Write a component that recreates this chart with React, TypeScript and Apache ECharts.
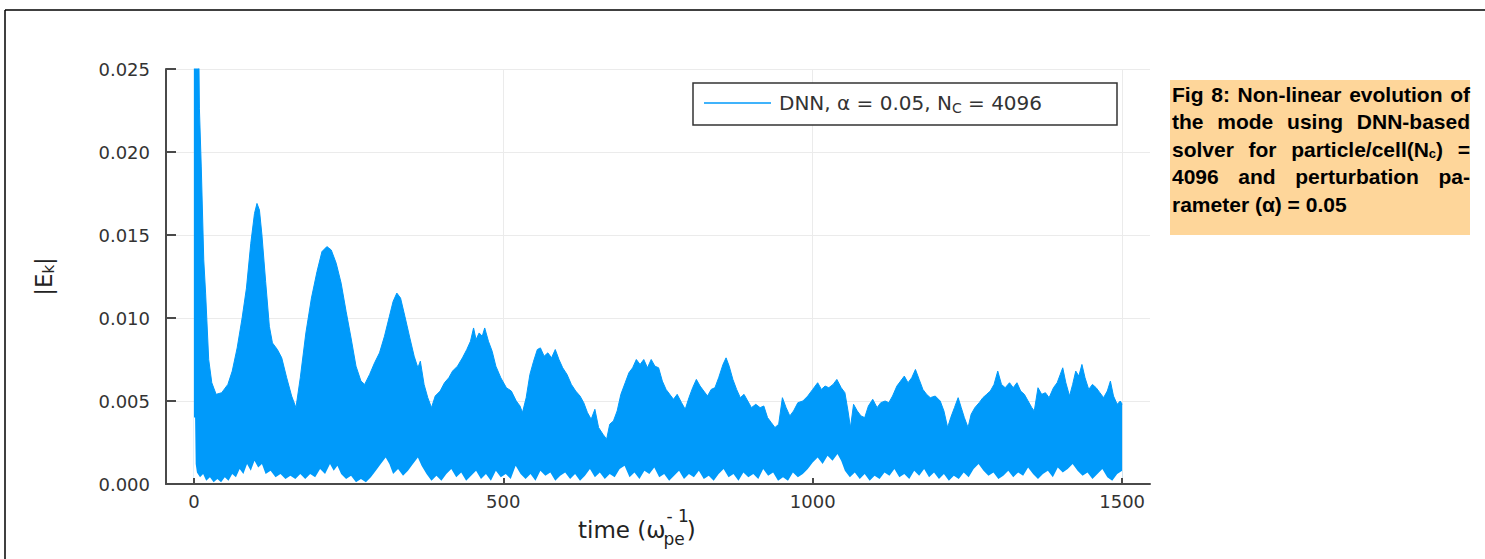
import React, { useEffect, useRef } from 'react';
import * as echarts from 'echarts';

const BLUE = '#009AFA';
const X_TICKS = [0, 500, 1000, 1500];
const X_MIN = -45;
const X_MAX = 1545;
const Y_MIN = 0;
const Y_MAX = 0.025;
const Y_STEP = 0.005;
const SERIES_NAME = 'DNN';
const LEGEND_MAIN = 'DNN, α = 0.05, N';
const LEGEND_SUB = 'C';
const LEGEND_TAIL = ' = 4096';

// upper envelope of |E_k| (time, value)
const upperEnvelope: [number, number][] = [
  [0, 0.04], [7, 0.03], [9, 0.0226], [12, 0.0191], [16, 0.0135], [19, 0.0115], [24, 0.0075], [29, 0.0061],
  [36, 0.0054], [45, 0.0055], [55, 0.006], [62, 0.0068], [70, 0.0082], [78, 0.01], [85, 0.0118], [92, 0.0145],
  [98, 0.0163], [102, 0.0169], [106, 0.0165], [110, 0.015], [116, 0.0122], [122, 0.0095], [127, 0.0085],
  [135, 0.0081], [142, 0.0076], [150, 0.0064], [158, 0.0053], [165, 0.0046], [172, 0.0064], [181, 0.0091],
  [190, 0.0112], [199, 0.0128], [207, 0.014], [215, 0.0143], [222, 0.0141], [230, 0.0133], [238, 0.0121],
  [246, 0.0104], [254, 0.0088], [262, 0.0071], [270, 0.0062], [276, 0.006], [284, 0.0066], [292, 0.0073],
  [300, 0.0079], [308, 0.0089], [316, 0.0101], [322, 0.011], [328, 0.0115], [334, 0.0112], [341, 0.0101],
  [349, 0.0088], [356, 0.0077], [362, 0.007], [366, 0.0074], [372, 0.006], [378, 0.0052], [384, 0.0046],
  [390, 0.0053], [398, 0.0056], [405, 0.0061], [412, 0.0064], [418, 0.0068], [426, 0.0071], [434, 0.0076],
  [441, 0.0081], [447, 0.0086], [452, 0.0094], [456, 0.0087], [461, 0.0091], [466, 0.0089], [470, 0.0094],
  [476, 0.0086], [482, 0.008], [488, 0.0071], [496, 0.0064], [505, 0.0058], [513, 0.0056], [521, 0.005],
  [527, 0.0047], [531, 0.0043], [537, 0.0052], [543, 0.0066], [549, 0.0074], [555, 0.0081], [560, 0.0082],
  [566, 0.0077], [572, 0.0079], [578, 0.0076], [584, 0.0081], [590, 0.0075], [596, 0.007], [603, 0.0066],
  [610, 0.006], [617, 0.0056], [624, 0.0053], [630, 0.0049], [636, 0.0043], [642, 0.0039], [648, 0.0045],
  [654, 0.0034], [661, 0.003], [667, 0.0027], [672, 0.0036], [678, 0.0038], [684, 0.0044], [690, 0.0054],
  [697, 0.0061], [703, 0.0067], [709, 0.007], [715, 0.0075], [721, 0.0072], [727, 0.0075], [733, 0.007],
  [739, 0.0075], [745, 0.0071], [751, 0.007], [757, 0.0062], [763, 0.0057], [769, 0.0054], [775, 0.0051],
  [781, 0.0054], [788, 0.0049], [794, 0.0045], [800, 0.0052], [806, 0.0058], [812, 0.0063], [818, 0.0059],
  [824, 0.0056], [830, 0.0053], [836, 0.0057], [842, 0.0058], [848, 0.0064], [855, 0.0072], [860, 0.0076],
  [865, 0.0071], [871, 0.0063], [877, 0.0057], [883, 0.0052], [889, 0.0054], [895, 0.005], [901, 0.0046],
  [908, 0.0048], [915, 0.0046], [921, 0.0047], [927, 0.004], [933, 0.0037], [939, 0.0034], [945, 0.0036],
  [951, 0.0052], [957, 0.0046], [963, 0.0041], [969, 0.0044], [976, 0.0049], [984, 0.005], [992, 0.0053],
  [1000, 0.0057], [1008, 0.0061], [1014, 0.0057], [1020, 0.0059], [1026, 0.0058], [1033, 0.006], [1039, 0.0063],
  [1046, 0.0058], [1052, 0.0055], [1057, 0.0044], [1061, 0.0034], [1066, 0.0048], [1072, 0.0044], [1078, 0.0041],
  [1084, 0.004], [1090, 0.0047], [1097, 0.0051], [1104, 0.0046], [1110, 0.0049], [1117, 0.005], [1123, 0.0049],
  [1129, 0.0053], [1136, 0.0059], [1142, 0.0062], [1148, 0.0065], [1154, 0.0061], [1160, 0.0064], [1166, 0.0069],
  [1172, 0.0063], [1178, 0.0057], [1184, 0.0054], [1190, 0.0052], [1198, 0.0053], [1206, 0.005], [1212, 0.0044],
  [1218, 0.0034], [1223, 0.004], [1229, 0.0046], [1235, 0.0052], [1240, 0.0046], [1245, 0.004], [1251, 0.0034],
  [1256, 0.0042], [1262, 0.0046], [1269, 0.0049], [1275, 0.0052], [1281, 0.0054], [1287, 0.0056], [1293, 0.006],
  [1299, 0.0068], [1305, 0.006], [1311, 0.0058], [1318, 0.0061], [1324, 0.0058], [1330, 0.0061], [1336, 0.0056],
  [1342, 0.0054], [1348, 0.005], [1354, 0.0046], [1358, 0.0044], [1364, 0.0058], [1370, 0.0054], [1376, 0.0055],
  [1382, 0.0052], [1389, 0.0058], [1395, 0.0061], [1400, 0.0066], [1404, 0.007], [1409, 0.0061], [1415, 0.0053],
  [1420, 0.006], [1425, 0.0068], [1430, 0.0065], [1435, 0.0072], [1440, 0.0064], [1446, 0.0057], [1452, 0.006],
  [1458, 0.0058], [1464, 0.0055], [1470, 0.0052], [1476, 0.0056], [1481, 0.0062], [1486, 0.0053], [1492, 0.0048],
  [1497, 0.005], [1500, 0.0048],
];

// lower envelope of |E_k| (time, value)
const lowerEnvelope: [number, number][] = [
  [0, 0.004], [2, 0.004], [3, 0.0012], [5, 0.0007], [10, 0.0004], [15, 0.0006], [20, 0.0002], [26, 0.0004],
  [32, 0.0001], [38, 0.0003], [44, 0.0001], [50, 0.0004], [56, 0.0002], [62, 0.0006], [68, 0.0004], [74, 0.0009],
  [80, 0.0006], [86, 0.0012], [92, 0.0008], [98, 0.0014], [104, 0.001], [110, 0.0012], [116, 0.0006],
  [124, 0.0008], [132, 0.0004], [140, 0.0006], [148, 0.0003], [156, 0.0005], [164, 0.0003], [172, 0.0006],
  [180, 0.0003], [188, 0.0006], [196, 0.0004], [204, 0.0009], [212, 0.0006], [220, 0.0012], [226, 0.0008],
  [232, 0.0011], [238, 0.0006], [246, 0.0003], [254, 0.0005], [262, 0.0001], [270, 0.0003], [278, 0.0001],
  [286, 0.0004], [294, 0.0008], [302, 0.0012], [310, 0.0016], [316, 0.0012], [322, 0.0006], [330, 0.0009],
  [338, 0.0005], [346, 0.0008], [354, 0.0012], [362, 0.0016], [368, 0.0011], [376, 0.0006], [384, 0.0002],
  [392, 0.0005], [400, 0.0002], [408, 0.0006], [416, 0.0009], [424, 0.0004], [432, 0.0007], [440, 0.0002],
  [448, 0.0005], [456, 0.0008], [464, 0.0003], [472, 0.0006], [480, 0.0002], [488, 0.0008], [496, 0.0004],
  [504, 0.0006], [512, 0.0003], [520, 0.0011], [528, 0.0006], [536, 0.0003], [544, 0.0006], [552, 0.0002],
  [560, 0.0008], [568, 0.0005], [576, 0.0007], [584, 0.0002], [592, 0.0005], [600, 0.0007], [608, 0.0003],
  [616, 0.0006], [624, 0.0002], [632, 0.0005], [640, 0.0009], [648, 0.0004], [656, 0.0007], [664, 0.0003],
  [672, 0.0006], [680, 0.0004], [688, 0.0009], [696, 0.0011], [704, 0.0004], [712, 0.0007], [720, 0.0003],
  [728, 0.0008], [736, 0.0006], [744, 0.001], [752, 0.0004], [760, 0.0006], [768, 0.0002], [776, 0.0005],
  [784, 0.0008], [792, 0.0003], [800, 0.0006], [808, 0.0004], [816, 0.0008], [824, 0.0003], [832, 0.0005],
  [840, 0.0002], [848, 0.0006], [856, 0.0009], [864, 0.0004], [872, 0.0006], [880, 0.0002], [888, 0.0007],
  [896, 0.0004], [904, 0.0006], [912, 0.0003], [920, 0.0009], [928, 0.0005], [936, 0.0007], [944, 0.0002],
  [952, 0.0004], [960, 0.0002], [968, 0.0007], [976, 0.0004], [984, 0.0006], [992, 0.0009], [1000, 0.0013],
  [1008, 0.0016], [1016, 0.0012], [1024, 0.0017], [1032, 0.0014], [1040, 0.0018], [1046, 0.0014], [1052, 0.0008],
  [1060, 0.0004], [1068, 0.0007], [1076, 0.0003], [1084, 0.0006], [1092, 0.0002], [1100, 0.0005], [1108, 0.0003],
  [1116, 0.0007], [1124, 0.0005], [1132, 0.0009], [1140, 0.0004], [1148, 0.0006], [1156, 0.0003], [1164, 0.0008],
  [1172, 0.0005], [1180, 0.0009], [1188, 0.0004], [1196, 0.0007], [1204, 0.0003], [1212, 0.0006], [1220, 0.0002],
  [1228, 0.0005], [1236, 0.0003], [1244, 0.0007], [1252, 0.0004], [1260, 0.0009], [1268, 0.0012], [1276, 0.0008],
  [1284, 0.0005], [1292, 0.0007], [1300, 0.0003], [1308, 0.0005], [1316, 0.0008], [1324, 0.0004], [1332, 0.0007],
  [1340, 0.0005], [1348, 0.001], [1356, 0.0006], [1364, 0.0003], [1372, 0.0006], [1380, 0.0008], [1388, 0.0004],
  [1396, 0.001], [1404, 0.0007], [1412, 0.0009], [1420, 0.0012], [1428, 0.0008], [1436, 0.0005], [1444, 0.0007],
  [1452, 0.0003], [1460, 0.0006], [1468, 0.0009], [1476, 0.0004], [1484, 0.0002], [1492, 0.0006], [1500, 0.0008],
];

const CAPTION_LINES: string[][] = [
  ['Fig', '8:', 'Non-linear', 'evolution', 'of'],
  ['the', 'mode', 'using', 'DNN-based'],
  ['solver', 'for', 'particle/cell(N{s|c})', '='],
  ['4096', 'and', 'perturbation', 'pa-'],
  ['rameter', '(α)', '=', '0.05'],
];

const AXIS_COLOR = '#4a4a4a';
const TEXT_COLOR = '#333333';
const GRID_COLOR = '#ebebeb';
const CHART_FONT = 'DejaVu Sans';
const CAPTION_FONT = 'Liberation Sans';

let measureCtx: CanvasRenderingContext2D | null = null;
function measure(text: string, size: number, family: string, weight = 'normal'): number {
  if (!measureCtx) measureCtx = document.createElement('canvas').getContext('2d');
  if (!measureCtx) return text.length * size * 0.55;
  measureCtx.font = `${weight} ${size}px "${family}"`;
  return measureCtx.measureText(text).width;
}
function richWidth(word: string, size: number, subSize: number, family: string, weight: string): number {
  const re = /\{(\w+)\|([^}]*)\}/g;
  let w = 0;
  let last = 0;
  let m: RegExpExecArray | null;
  while ((m = re.exec(word))) {
    w += measure(word.slice(last, m.index), size, family, weight);
    w += measure(m[2], subSize, family, weight);
    last = m.index + m[0].length;
  }
  w += measure(word.slice(last), size, family, weight);
  return w;
}

export default function App() {
  const ref = useRef<HTMLDivElement>(null);
  useEffect(() => {
    if (!ref.current) return;
    const chart = echarts.init(ref.current, undefined, { renderer: 'svg' });

    // caption (justified text block)
    const capSize = 21;
    const capSub = 13;
    const capLeft = 1172;
    const capRight = 1470;
    const capTop = 94;
    const capLine = 27.5;
    const captionTexts: any[] = [];
    CAPTION_LINES.forEach((words, li) => {
      const widths = words.map((w) => richWidth(w, capSize, capSub, CAPTION_FONT, 'bold'));
      const total = widths.reduce((a, b) => a + b, 0);
      const isLast = li === CAPTION_LINES.length - 1;
      const gap = isLast
        ? measure(' ', capSize, CAPTION_FONT, 'bold')
        : (capRight - capLeft - total) / (words.length - 1);
      let x = capLeft;
      words.forEach((w, wi) => {
        captionTexts.push({
          type: 'text',
          x,
          y: capTop + li * capLine,
          z: 20,
          style: {
            text: w,
            fontSize: capSize,
            fontWeight: 'bold',
            fontFamily: CAPTION_FONT,
            fill: '#000',
            align: 'left',
            verticalAlign: 'middle',
            rich: {
              s: { fontSize: capSub, fontWeight: 'bold', fontFamily: CAPTION_FONT, fill: '#000', padding: [9, 0, 0, 0] },
            },
          },
        });
        x += widths[wi] + gap;
      });
    });

    // x axis title: time (ω_pe^-1)
    const tSize = 23;
    const tSmall = 17;
    const tx0 = 578;
    const tMain = 'time (ω';
    const wMain = measure(tMain, tSize, CHART_FONT);
    const wSup = measure('- 1', tSmall, CHART_FONT);
    const wSub = measure('pe', tSmall, CHART_FONT);
    const titleY = 530;
    const titleStyle = { fontFamily: CHART_FONT, fill: '#222', verticalAlign: 'middle', align: 'left' };
    const xTitle = [
      { type: 'text', x: tx0, y: titleY, style: { ...titleStyle, text: tMain, fontSize: tSize } },
      { type: 'text', x: tx0 + wMain + 1, y: titleY - 14, style: { ...titleStyle, text: '- 1', fontSize: tSmall } },
      { type: 'text', x: tx0 + wMain - 2, y: titleY + 9, style: { ...titleStyle, text: 'pe', fontSize: tSmall } },
      {
        type: 'text',
        x: tx0 + wMain + Math.max(wSup, wSub) - 1,
        y: titleY,
        style: { ...titleStyle, text: ')', fontSize: tSize },
      },
    ];

    // legend sizing
    const legSize = 20;
    const legSub = 14;
    const legTextW =
      measure(LEGEND_MAIN, legSize, CHART_FONT) +
      measure(LEGEND_SUB, legSub, CHART_FONT) +
      measure(LEGEND_TAIL, legSize, CHART_FONT);
    const legLeft = 693;
    const legRightEdge = 1117;
    const legPadLeft = 11;
    const legIconW = 67;
    const padRight = Math.max(8, legRightEdge - (legLeft + legPadLeft + legIconW + 8 + legTextW));

    const axisLineStyle = { color: AXIS_COLOR, width: 2 };

    const option: any = {
      animation: false,
      backgroundColor: '#ffffff',
      grid: { left: 166, right: 335, top: 69, bottom: 75, containLabel: false },
      legend: {
        data: [SERIES_NAME],
        left: legLeft,
        top: 83,
        padding: [10, padRight, 10, legPadLeft],
        icon: 'rect',
        itemWidth: legIconW,
        itemHeight: 1.5,
        itemStyle: { color: BLUE, borderWidth: 0 },
        borderColor: '#333',
        borderWidth: 1.5,
        borderRadius: 0,
        backgroundColor: '#fff',
        formatter: () => `${LEGEND_MAIN}{sub|${LEGEND_SUB}}${LEGEND_TAIL}`,
        textStyle: {
          fontSize: legSize,
          fontFamily: CHART_FONT,
          color: TEXT_COLOR,
          padding: [0, 0, 0, 3],
          rich: {
            sub: { fontSize: legSub, fontFamily: CHART_FONT, color: TEXT_COLOR, padding: [10, 0, 0, 0] },
          },
        },
      },
      xAxis: [
        {
          type: 'value',
          min: X_MIN,
          max: X_MAX,
          axisLine: { show: false },
          axisTick: { show: false, customValues: X_TICKS },
          axisLabel: {
            customValues: X_TICKS,
            formatter: (v: number) => String(v),
            fontSize: 18,
            fontFamily: CHART_FONT,
            color: TEXT_COLOR,
            margin: 8,
          },
          splitLine: { show: true, lineStyle: { color: GRID_COLOR, width: 1 } },
        },
        {
          type: 'value',
          min: X_MIN,
          max: X_MAX,
          position: 'bottom',
          z: 10,
          axisLine: { show: true, onZero: false, lineStyle: axisLineStyle },
          axisTick: { show: true, inside: true, length: 6, customValues: X_TICKS, lineStyle: axisLineStyle },
          axisLabel: { show: false },
          splitLine: { show: false },
        },
      ],
      yAxis: {
        type: 'value',
        min: Y_MIN,
        max: Y_MAX,
        interval: Y_STEP,
        axisLine: { show: true, onZero: false, lineStyle: axisLineStyle },
        axisTick: { show: true, inside: true, length: 10, lineStyle: axisLineStyle },
        axisLabel: {
          formatter: (v: number) => v.toFixed(3),
          fontSize: 18,
          fontFamily: CHART_FONT,
          color: TEXT_COLOR,
          margin: 16,
        },
        splitLine: { show: true, lineStyle: { color: GRID_COLOR, width: 1 } },
        name: '|E{sub|k}|',
        nameLocation: 'middle',
        nameRotate: 90,
        nameGap: 110,
        nameTextStyle: {
          fontSize: 23,
          fontFamily: CHART_FONT,
          color: '#222',
          rich: { sub: { fontSize: 15, fontFamily: CHART_FONT, color: '#222', padding: [10, 0, 0, 0] } },
        },
      },
      series: [
        {
          name: SERIES_NAME,
          type: 'line',
          xAxisIndex: 0,
          data: upperEnvelope,
          symbol: 'none',
          z: 2,
          lineStyle: { color: BLUE, width: 1 },
          itemStyle: { color: BLUE },
          areaStyle: { color: BLUE, opacity: 1 },
        },
        {
          name: 'lower',
          type: 'line',
          xAxisIndex: 0,
          data: lowerEnvelope,
          symbol: 'none',
          z: 3,
          silent: true,
          lineStyle: { width: 0, color: '#ffffff' },
          itemStyle: { color: '#ffffff' },
          areaStyle: { color: '#ffffff', opacity: 1 },
        },
      ],
      graphic: [
        { type: 'line', shape: { x1: 5, y1: 10, x2: 1485, y2: 10 }, style: { stroke: '#000', lineWidth: 1.5 } },
        { type: 'line', shape: { x1: 5, y1: 10, x2: 5, y2: 559 }, style: { stroke: '#000', lineWidth: 1.5 } },
        { type: 'rect', shape: { x: 1170, y: 80, width: 300, height: 155 }, style: { fill: '#FED69A' }, z: 10 },
        ...captionTexts,
        ...xTitle,
      ],
    };
    chart.setOption(option);
    return () => chart.dispose();
  }, []);
  return (
    <div
      ref={ref}
      style={{ position: 'fixed', left: 0, top: 0, width: 1485, height: 559, background: '#fff' }}
    />
  );
}
